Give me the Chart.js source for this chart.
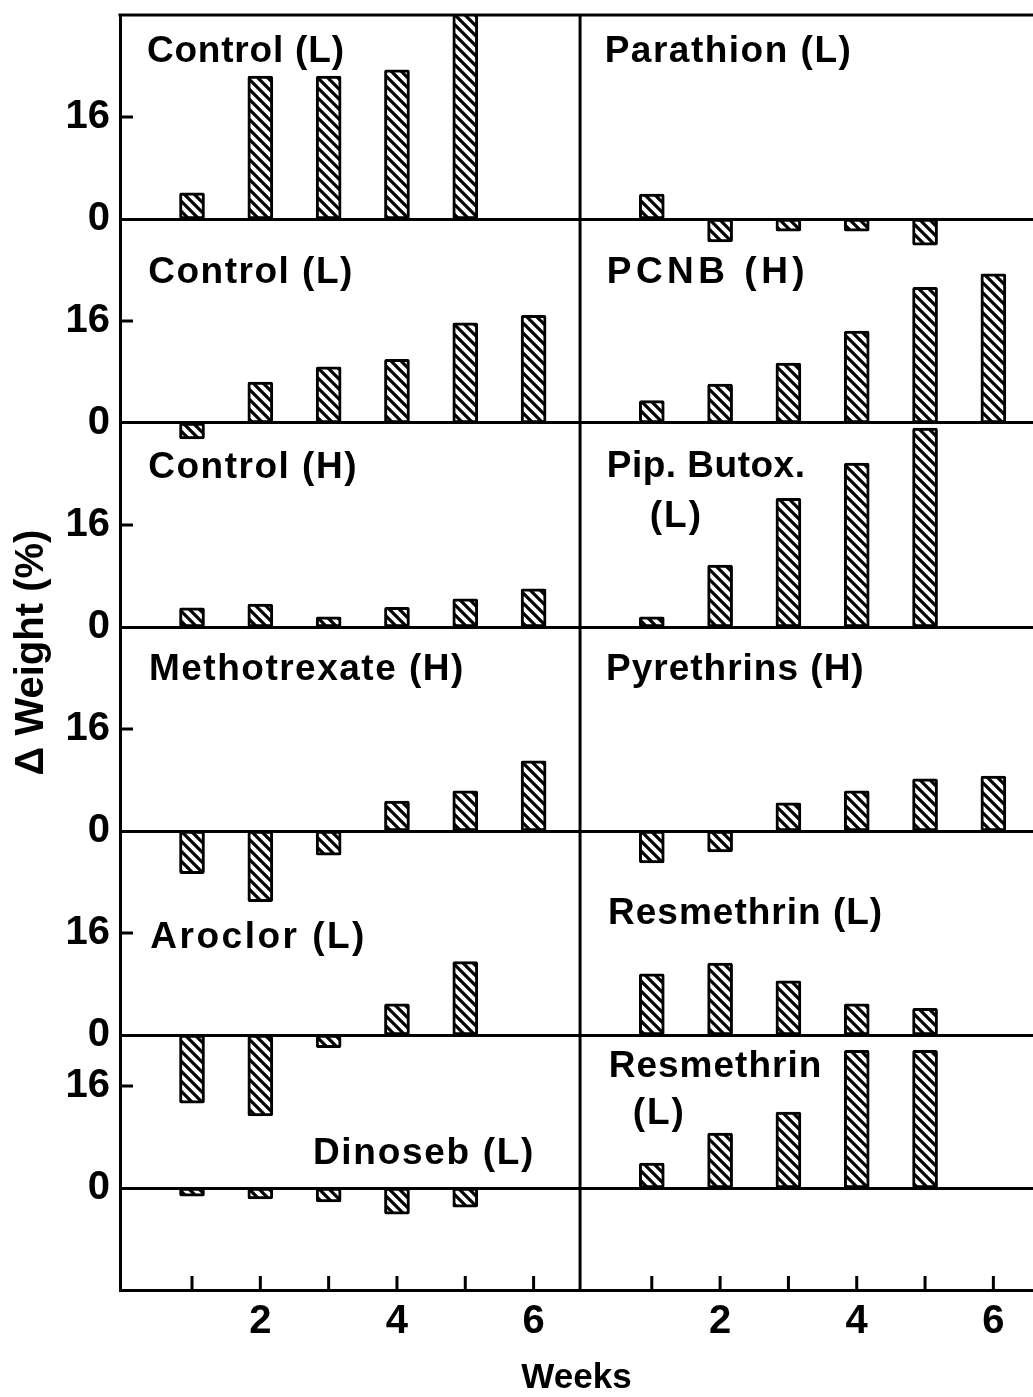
<!DOCTYPE html>
<html>
<head>
<meta charset="utf-8">
<script src="https://cdn.jsdelivr.net/npm/chart.js@4.4.1/dist/chart.umd.min.js"></script>
<style>
  html, body { margin: 0; padding: 0; background: #fff; }
  #wrap { width: 1033px; height: 1397px; }
</style>
</head>
<body>
<div id="wrap"><canvas id="chart" width="1033" height="1397"></canvas></div>
<script>
// Weeks on the x axis (same for both columns)
const weeks = [1, 2, 3, 4, 5, 6];

// Change in weight (%) per week, one array per panel (null = no bar)
const controlL1     = [4.1, 22.4, 22.4, 23.4, 33, null];
const parathionL    = [3.9, -3.6, -1.9, -1.9, -4.1, null];
const controlL2     = [-2.5, 6.4, 8.8, 10.0, 15.7, 16.9];
const pcnbH         = [3.5, 6.1, 9.4, 14.4, 21.3, 23.4];
const controlH      = [3.0, 3.6, 1.6, 3.1, 4.4, 6.0];
const pipButoxL     = [1.6, 9.7, 20.2, 25.7, 31.2, null];
const methotrexateH = [-6.7, -11.1, -3.8, 4.7, 6.3, 11.0];
const pyrethrinsH   = [-5.0, -3.3, 4.4, 6.3, 8.2, 8.6];
const aroclorL      = [-10.7, -12.7, -2.0, 4.9, 11.5, null];
const resmethrinL1  = [9.6, 11.3, 8.5, 4.9, 4.2, null];
const dinosebL      = [-1.3, -1.7, -2.2, -4.1, -3.0, null];
const resmethrinL2  = [3.9, 8.6, 11.9, 21.6, 21.6, null];

// Tick labels
const yTickText = ['0', '16'];
const xTickText = ['', '2', '', '4', '', '6'];

// Layout: each panel row has its own zero on one shared y scale,
// the right column is shifted along the shared x scale
const rowZero = [168, 136, 104, 72, 40, 16];
const colOffset = [0, 6.73];
const dividerAt = 6.68;

const panels = [
    { values: controlL1,     col: 0, row: 0 },
    { values: parathionL,    col: 1, row: 0 },
    { values: controlL2,     col: 0, row: 1 },
    { values: pcnbH,         col: 1, row: 1 },
    { values: controlH,      col: 0, row: 2 },
    { values: pipButoxL,     col: 1, row: 2 },
    { values: methotrexateH, col: 0, row: 3 },
    { values: pyrethrinsH,   col: 1, row: 3 },
    { values: aroclorL,      col: 0, row: 4 },
    { values: resmethrinL1,  col: 1, row: 4 },
    { values: dinosebL,      col: 0, row: 5 },
    { values: resmethrinL2,  col: 1, row: 5 }
];

// Panel names: dx in weeks from column start, dy in % above the row zero
const panelLabels = [
    { text: 'Control (L)',      col: 0, row: 0, dx: 0.34, dy: 24.6, spacing: 0.8 },
    { text: 'Parathion (L)',    col: 1, row: 0, dx: 0.31, dy: 24.6 },
    { text: 'Control (L)',      col: 0, row: 1, dx: 0.36, dy: 22.0 },
    { text: 'PCNB (H)',         col: 1, row: 1, dx: 0.34, dy: 22.0, spacing: 4.5 },
    { text: 'Control (H)',      col: 0, row: 2, dx: 0.36, dy: 23.4 },
    { text: 'Pip. Butox.',      col: 1, row: 2, dx: 0.34, dy: 23.5, spacing: 0.5 },
    { text: '(L)',              col: 1, row: 2, dx: 0.97, dy: 15.7, spacing: 2 },
    { text: 'Methotrexate (H)', col: 0, row: 3, dx: 0.37, dy: 23.7 },
    { text: 'Pyrethrins (H)',   col: 1, row: 3, dx: 0.33, dy: 23.7, spacing: 1 },
    { text: 'Aroclor (L)',      col: 0, row: 4, dx: 0.39, dy: 13.6, spacing: 2.5 },
    { text: 'Resmethrin (L)',   col: 1, row: 4, dx: 0.36, dy: 17.4, spacing: 1 },
    { text: 'Dinoseb (L)',      col: 0, row: 5, dx: 2.77, dy: 3.8, spacing: 1.7 },
    { text: 'Resmethrin',       col: 1, row: 5, dx: 0.37, dy: 17.4, spacing: 1 },
    { text: '(L)',              col: 1, row: 5, dx: 0.72, dy: 10.0, spacing: 2 }
];

const FONT = '"Liberation Sans", Arial, sans-serif';

// Tick positions built from the layout
const yTickValues = [];
rowZero.forEach(z => { yTickValues.push(z, z + 16); });
yTickValues.sort((a, b) => a - b);

const xTickValues = [];
const xTickLabels = [];
colOffset.forEach(off => {
    weeks.forEach((w, i) => {
        xTickValues.push(w + off);
        xTickLabels.push(xTickText[i]);
    });
});

// Diagonal hatch fill for the bars
function makeHatch() {
    const n = 10;
    const c = document.createElement('canvas');
    c.width = n;
    c.height = n;
    const g = c.getContext('2d');
    g.fillStyle = '#fff';
    g.fillRect(0, 0, n, n);
    g.strokeStyle = '#000';
    g.lineWidth = 3.2;
    g.beginPath();
    g.moveTo(-2, -2);    g.lineTo(n + 2, n + 2);
    g.moveTo(-2, n - 2); g.lineTo(2, n + 2);
    g.moveTo(n - 2, -2); g.lineTo(n + 2, 2);
    g.stroke();
    return g.createPattern(c, 'repeat');
}
const hatch = makeHatch();

const datasets = panels.map(p => ({
    data: weeks
        .map((w, i) => p.values[i] == null ? null : {
            x: w + colOffset[p.col],
            y: [rowZero[p.row], rowZero[p.row] + p.values[i]]
        })
        .filter(Boolean),
    backgroundColor: hatch,
    borderColor: '#000',
    borderWidth: 3,
    borderSkipped: false,
    borderRadius: 2,
    barThickness: 25,
    grouped: false
}));

// Frame top, column divider, inward tick marks and panel names
const framePlugin = {
    id: 'frame',
    afterDatasetsDraw(chart) {
        const { ctx, chartArea: a, scales: { x, y } } = chart;
        ctx.save();
        ctx.strokeStyle = '#000';
        ctx.lineWidth = 3;
        ctx.beginPath();
        ctx.moveTo(a.left - 1.5, a.top);
        ctx.lineTo(a.right, a.top);
        const xd = x.getPixelForValue(dividerAt);
        ctx.moveTo(xd, a.top);
        ctx.lineTo(xd, a.bottom);
        yTickValues.filter(v => !rowZero.includes(v)).forEach(v => {
            const py = y.getPixelForValue(v);
            ctx.moveTo(a.left, py);
            ctx.lineTo(a.left + 13, py);
        });
        xTickValues.forEach(v => {
            const px = x.getPixelForValue(v);
            ctx.moveTo(px, a.bottom);
            ctx.lineTo(px, a.bottom - 14);
        });
        ctx.stroke();

        ctx.fillStyle = '#000';
        ctx.font = 'bold 37px ' + FONT;
        ctx.textBaseline = 'alphabetic';
        ctx.textAlign = 'left';
        panelLabels.forEach(l => {
            ctx.letterSpacing = (l.spacing == null ? 1.5 : l.spacing) + 'px';
            ctx.fillText(l.text,
                x.getPixelForValue(colOffset[l.col] + l.dx),
                y.getPixelForValue(rowZero[l.row] + l.dy));
        });
        ctx.restore();
    }
};

new Chart(document.getElementById('chart'), {
    type: 'bar',
    data: { datasets },
    options: {
        responsive: false,
        animation: false,
        devicePixelRatio: 1,
        layout: { autoPadding: false, padding: { top: 15, left: 0, right: 0, bottom: 0 } },
        plugins: {
            legend: { display: false },
            tooltip: { enabled: false }
        },
        scales: {
            x: {
                type: 'linear',
                offset: false,
                min: -0.054,
                max: 13.31,
                afterBuildTicks: s => { s.ticks = xTickValues.map(v => ({ value: v })); },
                afterFit: s => {
                    s.height = 107;
                    s.paddingLeft = 0;
                    s.paddingRight = 0;
                },
                ticks: {
                    callback: (v, i) => xTickLabels[i],
                    autoSkip: false,
                    maxRotation: 0,
                    padding: 8,
                    color: '#000',
                    font: { family: FONT, size: 40, weight: 'bold' }
                },
                grid: { display: false, drawTicks: false },
                border: { display: true, color: '#000', width: 3 },
                title: {
                    display: true,
                    text: 'Weeks',
                    color: '#000',
                    font: { family: FONT, size: 35, weight: 'bold', lineHeight: 1 },
                    padding: { top: 0, bottom: 1 }
                }
            },
            y: {
                type: 'linear',
                min: 0,
                max: 200,
                afterBuildTicks: s => { s.ticks = yTickValues.map(v => ({ value: v })); },
                afterFit: s => {
                    s.width = 120;
                    s.paddingTop = 0;
                    s.paddingBottom = 0;
                },
                ticks: {
                    callback: v => rowZero.includes(v) ? yTickText[0] : yTickText[1],
                    autoSkip: false,
                    padding: 10,
                    color: '#000',
                    font: { family: FONT, size: 40, weight: 'bold' }
                },
                grid: {
                    drawTicks: false,
                    color: c => (c.tick && rowZero.includes(c.tick.value)) ? '#000' : 'rgba(0,0,0,0)',
                    lineWidth: c => (c.tick && rowZero.includes(c.tick.value)) ? 3 : 0
                },
                border: { display: true, color: '#000', width: 3 },
                title: {
                    display: true,
                    text: 'Δ Weight (%)',
                    color: '#000',
                    font: { family: FONT, size: 40, weight: 'bold', lineHeight: 1 },
                    padding: { top: 12, bottom: 0 }
                }
            }
        }
    },
    plugins: [framePlugin]
});
</script>
</body>
</html>
